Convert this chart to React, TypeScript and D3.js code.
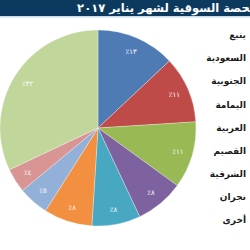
import React from "react";
import * as d3 from "d3";

const title = "الحصة السوقية لشهر يناير ٢٠١٧";
const categories = ["ينبع", "السعودية", "الجنوبية", "اليمامة", "العربية", "القصيم", "الشرقية", "نجران", "أخرى"];
const values = [13, 11, 11, 8, 8, 8, 5, 4, 32];
const labels = ["١٣٪", "١١٪", "١١٪", "٨٪", "٨٪", "٨٪", "٥٪", "٤٪", "٣٢٪"];
const colors = ["#4f7bb5", "#bf4b48", "#98b954", "#7e619f", "#48a8c2", "#f38f40", "#93b0d8", "#d89593", "#c0d69b"];

export default function App() {
  const cx = 98;
  const cy = 128;
  const r = 98;
  const pie = d3.pie<number>().value((d) => d).sort(null);
  const arcs = pie(values);
  const arc = d3.arc<d3.PieArcDatum<number>>().innerRadius(0).outerRadius(r);
  const labelArc = d3.arc<d3.PieArcDatum<number>>().innerRadius(r * 0.85).outerRadius(r * 0.85);
  const legendY = d3.scalePoint<string>().domain(categories).range([35, 220]);
  const font = "'DejaVu Sans', sans-serif";
  return (
    <svg width={250} height={250} style={{ position: "absolute", left: 0, top: 0, background: "#fff" }}>
      <rect x={0} y={0} width={250} height={16} fill="#0c3a5f" />
      <rect x={0} y={16} width={250} height={1.5} fill="#c9dbe8" />
      <text x={258} y={12} textAnchor="start" direction="rtl" fill="#fff" fontFamily={font} fontWeight="bold" fontSize={11.5}>
        {title}
      </text>
      <g transform={`translate(${cx},${cy})`}>
        {arcs.map((a, i) => (
          <path key={i} d={arc(a) || ""} fill={colors[i]} stroke="#fff" strokeWidth={0.3} />
        ))}
        {arcs.map((a, i) => {
          const [x, y] = labelArc.centroid(a);
          return (
            <text key={i} x={x} y={y} dy="0.35em" textAnchor="middle" direction="rtl" fill="#fff" fontFamily={font} fontSize={7}>
              {labels[i]}
            </text>
          );
        })}
      </g>
      {categories.map((c, i) => (
        <text key={c} x={246} y={legendY(c)} dy="0.35em" textAnchor="start" direction="rtl" fill="#1a1a1a" fontFamily={font} fontWeight="bold" fontSize={9}>
          {c}
        </text>
      ))}
    </svg>
  );
}
